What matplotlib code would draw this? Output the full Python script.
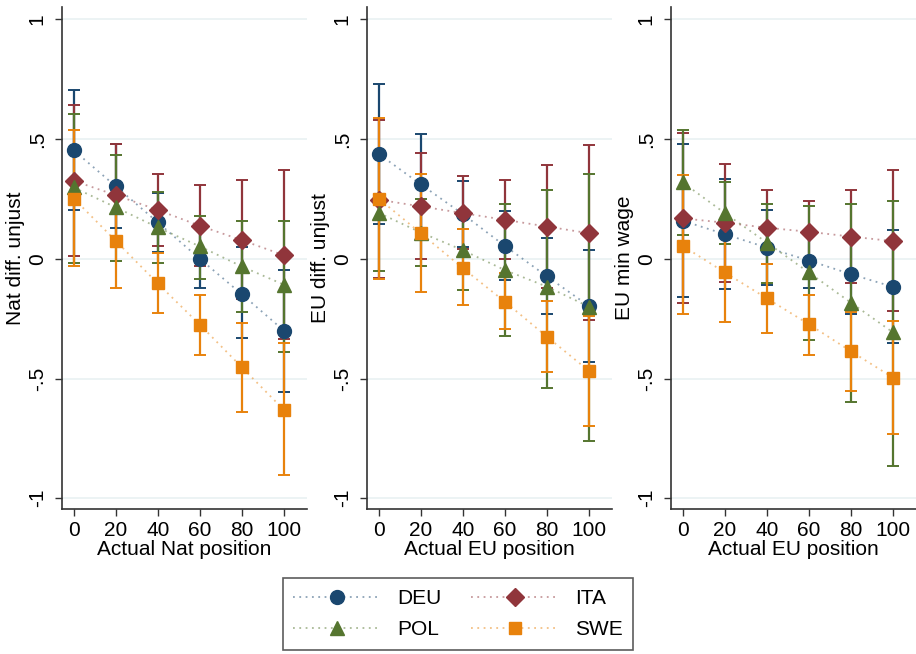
import numpy as np
import matplotlib
matplotlib.use("Agg")
import matplotlib.pyplot as plt
from matplotlib.lines import Line2D
from matplotlib.colors import to_rgba

plt.rcParams['font.family'] = ['Liberation Sans', 'DejaVu Sans']

# x positions (actual position shown in treatment)
positions = [0, 20, 40, 60, 80, 100]
countries = ['DEU', 'ITA', 'POL', 'SWE']

# Panel 1: Nat diff. unjust
nat_est = {
    'DEU': [0.453, 0.303, 0.152, 0.000, -0.148, -0.300],
    'ITA': [0.326, 0.266, 0.204, 0.138, 0.078, 0.015],
    'POL': [0.298, 0.215, 0.131, 0.052, -0.032, -0.108],
    'SWE': [0.252, 0.075, -0.103, -0.275, -0.453, -0.631],
}
nat_lo = {
    'DEU': [0.204, 0.127, 0.030, -0.123, -0.329, -0.556],
    'ITA': [0.013, 0.052, 0.054, -0.030, -0.167, -0.336],
    'POL': [-0.017, -0.007, -0.018, -0.084, -0.220, -0.389],
    'SWE': [-0.032, -0.120, -0.226, -0.400, -0.640, -0.904],
}
nat_hi = {
    'DEU': [0.706, 0.479, 0.275, 0.123, 0.050, -0.047],
    'ITA': [0.642, 0.480, 0.353, 0.308, 0.329, 0.372],
    'POL': [0.607, 0.434, 0.278, 0.180, 0.156, 0.159],
    'SWE': [0.538, 0.270, 0.026, -0.152, -0.266, -0.353],
}

# Panel 2: EU diff. unjust
eu_est = {
    'DEU': [0.438, 0.311, 0.187, 0.054, -0.073, -0.197],
    'ITA': [0.247, 0.219, 0.191, 0.163, 0.135, 0.107],
    'POL': [0.192, 0.110, 0.036, -0.047, -0.116, -0.200],
    'SWE': [0.251, 0.107, -0.039, -0.179, -0.325, -0.468],
}
eu_lo = {
    'DEU': [0.145, 0.100, 0.050, -0.090, -0.230, -0.432],
    'ITA': [-0.078, 0.000, 0.040, 0.000, -0.120, -0.254],
    'POL': [-0.050, -0.031, -0.131, -0.322, -0.539, -0.762],
    'SWE': [-0.086, -0.138, -0.193, -0.294, -0.472, -0.697],
}
eu_hi = {
    'DEU': [0.732, 0.520, 0.325, 0.200, 0.088, 0.035],
    'ITA': [0.580, 0.442, 0.344, 0.331, 0.392, 0.474],
    'POL': [0.435, 0.250, 0.200, 0.230, 0.289, 0.356],
    'SWE': [0.590, 0.353, 0.124, -0.060, -0.175, -0.237],
}

# Panel 3: EU min wage
mw_est = {
    'DEU': [0.159, 0.103, 0.047, -0.007, -0.064, -0.117],
    'ITA': [0.169, 0.151, 0.130, 0.113, 0.093, 0.074],
    'POL': [0.319, 0.191, 0.068, -0.057, -0.183, -0.307],
    'SWE': [0.054, -0.057, -0.165, -0.273, -0.386, -0.496],
}
mw_lo = {
    'DEU': [-0.159, -0.126, -0.110, -0.123, -0.230, -0.353],
    'ITA': [-0.183, -0.096, -0.022, -0.020, -0.103, -0.218],
    'POL': [0.098, 0.060, -0.103, -0.339, -0.599, -0.865],
    'SWE': [-0.231, -0.265, -0.311, -0.400, -0.550, -0.733],
}
mw_hi = {
    'DEU': [0.480, 0.333, 0.202, 0.110, 0.100, 0.121],
    'ITA': [0.524, 0.397, 0.289, 0.243, 0.289, 0.372],
    'POL': [0.537, 0.322, 0.229, 0.219, 0.229, 0.240],
    'SWE': [0.349, 0.150, -0.022, -0.150, -0.220, -0.261],
}

panels = [
    ('Nat diff. unjust', 'Actual Nat position', nat_est, nat_lo, nat_hi),
    ('EU diff. unjust', 'Actual EU position', eu_est, eu_lo, eu_hi),
    ('EU min wage', 'Actual EU position', mw_est, mw_lo, mw_hi),
]

colors = {'DEU': '#1a476f', 'ITA': '#90353b', 'POL': '#55752f', 'SWE': '#e8820c'}
markers = {'DEU': 'o', 'ITA': 'D', 'POL': '^', 'SWE': 's'}
msizes = {'DEU': 10, 'ITA': 9, 'POL': 10, 'SWE': 9}
DOTS = (0, (1, 2.5))
FS = 15

W, H = 916, 654
fig = plt.figure(figsize=(W / 100, H / 100), dpi=100)

lefts = [62, 367, 671]
width = 245
top_px, bot_px = 7, 509

for left, (ylab, xlab, est, lo, hi) in zip(lefts, panels):
    ax = fig.add_axes([left / W, 1 - bot_px / H, width / W, (bot_px - top_px) / H])
    for yv in [-1, -0.5, 0, 0.5, 1]:
        ax.axhline(yv, color='#eaf2f3', lw=1.3, zorder=0)
    x = np.array(positions)
    for c in countries:
        e = np.array(est[c])
        ax.errorbar(x, e, yerr=[e - np.array(lo[c]), np.array(hi[c]) - e],
                    fmt='none', ecolor=colors[c], elinewidth=1.6, capsize=4,
                    capthick=1.4, zorder=2)
    for c in countries:
        ax.plot(x, est[c], linestyle=DOTS, color=colors[c], lw=1.3,
                alpha=0.5, zorder=3)
        ax.plot(x, est[c], linestyle='none', marker=markers[c], ms=msizes[c],
                color=colors[c], zorder=4)
    ax.set_xlim(-5.6, 111)
    ax.set_ylim(-1.045, 1.052)
    ax.set_xticks(positions)
    ax.set_yticks([-1, -0.5, 0, 0.5, 1])
    ax.set_yticklabels(['-1', '-.5', '0', '.5', '1'], rotation=90, va='center')
    ax.tick_params(labelsize=FS, length=5, width=1, color='#333333')
    ax.tick_params(axis='y', pad=6)
    ax.set_xlabel(xlab, fontsize=FS, labelpad=0)
    ax.set_ylabel(ylab, fontsize=FS, labelpad=2)
    for s in ['top', 'right']:
        ax.spines[s].set_visible(False)
    for s in ['left', 'bottom']:
        ax.spines[s].set_color('#333333')
        ax.spines[s].set_linewidth(1.2)

handles = []
for c in countries:
    handles.append(Line2D([0], [0], color=to_rgba(colors[c], 0.5), linestyle=DOTS,
                          lw=1.3, marker=markers[c], ms=msizes[c],
                          markerfacecolor=colors[c], markeredgecolor=colors[c]))
# order: DEU, ITA in first row; POL, SWE in second
order = [0, 2, 1, 3]
leg = fig.legend([handles[i] for i in order], [countries[i] for i in order],
                 ncol=2, loc='center', bbox_to_anchor=(0.5, 0.061),
                 fontsize=FS, frameon=True, fancybox=False, edgecolor='#333333',
                 handlelength=4.2, handletextpad=0.8, columnspacing=1.4,
                 numpoints=1, borderpad=0.5, labelspacing=0.6, borderaxespad=0)
leg.get_frame().set_linewidth(1.2)

fig.savefig('out.png', dpi=100)
